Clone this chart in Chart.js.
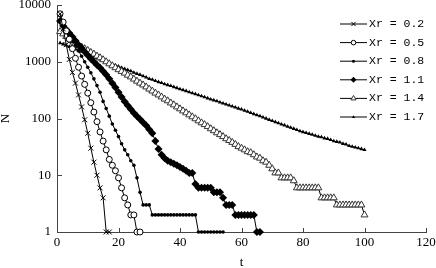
<!DOCTYPE html>
<html>
<head>
<meta charset="utf-8">
<script src="https://cdn.jsdelivr.net/npm/chart.js@4"></script>
<style>
  html, body { margin: 0; padding: 0; background: #fff; }
</style>
</head>
<body>
<canvas id="decayChart" width="436" height="268"></canvas>
<script>
// tick values
const xTicks = [0, 20, 40, 60, 80, 100, 120];
const yTicks = [1, 10, 100, 1000, 10000];

// N at t = 1, 2, 3, ... for each Xr
const xr02 = [7000, 3800, 2000, 1100, 650, 420, 260, 160, 95, 55, 30, 17, 10, 6, 4, 1, 1];
const xr05 = [7000, 5000, 3500, 2500, 1700, 1150, 800, 560, 400, 280, 190, 130, 88, 58, 40, 28, 19, 15, 12, 9, 6, 4, 3, 2, 2, 1, 1];
const xr08 = [5200, 4100, 3400, 2800, 2300, 1900, 1550, 1250, 1000, 800, 640, 500, 380, 290, 200, 150, 110, 80, 62, 48,
  36, 28, 23, 18, 15, 9, 5, 3, 3, 3, 2, 2, 2, 2, 2, 2, 2, 2, 2, 2, 2, 2, 2, 2, 2, 1, 1, 1, 1, 1, 1, 1, 1, 1];
const xr11 = [5200, 4300, 3700, 3200, 2750, 2350, 2000, 1750, 1500, 1300, 1130, 1000, 880, 780, 680, 590, 500, 420, 350, 290,
  240, 200, 170, 145, 125, 110, 97, 85, 75, 64, 55, 40, 29, 23, 20, 18, 17, 16, 15, 14,
  13, 12, 11, 11, 7, 6, 6, 6, 6, 6, 5, 5, 5, 4, 3, 3, 3, 2, 2, 2, 2, 2, 2, 2, 1, 1];
const xr14 = [3400, 3100, 2800, 2550, 2350, 2130, 1950, 1820, 1700, 1580, 1460, 1365, 1260, 1175, 1085, 1000, 920, 850, 785, 725,
  675, 630, 580, 540, 495, 455, 420, 390, 360, 330, 305, 280, 260, 240, 220, 205, 188, 174, 160, 148,
  136, 126, 116, 107, 99, 91, 84, 78, 72, 66, 61, 56, 52, 48, 44, 41, 38, 35, 32, 30,
  28, 26, 25, 23, 21, 20, 18, 17, 15, 13, 11, 11, 9, 9, 9, 9, 8, 6, 6, 6,
  6, 6, 6, 6, 6, 4, 4, 4, 4, 4, 3, 3, 3, 3, 3, 3, 3, 3, 3, 2];
const xr17 = [2140, 2040, 1950, 1840, 1760, 1660, 1585, 1510, 1430, 1365, 1290, 1230, 1175, 1110, 1060, 1000, 955, 910, 870, 830,
  785, 750, 715, 685, 645, 615, 590, 560, 530, 500, 485, 460, 440, 425, 405, 390, 375, 360, 345, 330,
  318, 305, 292, 280, 270, 258, 248, 238, 228, 218, 210, 202, 193, 185, 178, 170, 164, 157, 150, 145,
  138, 132, 126, 120, 115, 110, 105, 100, 95, 91, 87, 83, 79, 76, 72, 69, 66, 63, 60, 58,
  56, 54, 52, 50, 48, 47, 45, 44, 42, 40, 39, 38, 36, 35, 33, 32, 31, 30, 29, 28];

const axisColor = "#444";
const serif = "'Liberation Serif', 'Times New Roman', serif";

function series(label, values, style) {
  return Object.assign({
    label: label,
    data: values.map((v, i) => ({ x: i + 1, y: v })),
    borderColor: "#000",
    borderWidth: 1,
    pointBorderColor: "#000",
    pointBorderWidth: 1,
    pointHoverRadius: 0,
    tension: 0,
    clip: false,
  }, style);
}

const datasets = [
  series("Xr = 0.2", xr02, { pointStyle: "crossRot", pointRadius: 3.5, pointBackgroundColor: "#000", legendRadius: 3 }),
  series("Xr = 0.5", xr05, { pointStyle: "circle", pointRadius: 3, pointBackgroundColor: "#fff", legendRadius: 2.3 }),
  series("Xr = 0.8", xr08, { pointStyle: "circle", pointRadius: 1.8, pointBorderWidth: 0, pointBackgroundColor: "#000", legendRadius: 1.5 }),
  series("Xr = 1.1", xr11, { pointStyle: "rectRot", pointRadius: 4, pointBorderWidth: 0, pointBackgroundColor: "#000", legendRadius: 3 }),
  series("Xr = 1.4", xr14, { pointStyle: "triangle", pointRadius: 4, pointBorderColor: "#333", pointBackgroundColor: "#fff", legendRadius: 3 }),
  series("Xr = 1.7", xr17, { pointStyle: "triangle", pointRadius: 2.4, pointBorderWidth: 0, pointBackgroundColor: "#000", legendRadius: 1.8 }),
];

// tick marks pointing into the plot
const inwardTicks = {
  id: "inwardTicks",
  afterDraw(chart) {
    const ctx = chart.ctx, sx = chart.scales.x, sy = chart.scales.y;
    ctx.save();
    ctx.strokeStyle = axisColor;
    ctx.lineWidth = 1;
    ctx.beginPath();
    xTicks.forEach(v => {
      const px = Math.round(sx.getPixelForValue(v)) + 0.5;
      ctx.moveTo(px, sx.top);
      ctx.lineTo(px, sx.top - 4);
    });
    yTicks.forEach(v => {
      const py = Math.round(sy.getPixelForValue(v)) + 0.5;
      ctx.moveTo(sy.right, py);
      ctx.lineTo(sy.right + 5, py);
    });
    ctx.stroke();
    ctx.restore();
  }
};

// legend with a line sample through each marker
const lineLegend = {
  id: "lineLegend",
  afterDraw(chart) {
    const ctx = chart.ctx;
    ctx.save();
    ctx.font = "11.5px 'Liberation Mono', monospace";
    ctx.textBaseline = "middle";
    ctx.textAlign = "left";
    chart.data.datasets.forEach((ds, i) => {
      const y = 24 + i * 18.6;
      ctx.strokeStyle = "#000";
      ctx.lineWidth = 1;
      ctx.beginPath();
      ctx.moveTo(340, y);
      ctx.lineTo(367, y);
      ctx.stroke();
      ctx.fillStyle = ds.pointBackgroundColor;
      ctx.strokeStyle = ds.pointBorderColor;
      ctx.lineWidth = ds.pointBorderWidth;
      Chart.helpers.drawPoint(ctx, {
        pointStyle: ds.pointStyle,
        radius: ds.legendRadius,
        rotation: 0,
        borderWidth: ds.pointBorderWidth,
      }, 353.5, y);
      ctx.fillStyle = "#000";
      ctx.fillText(ds.label, 369, y);
    });
    ctx.restore();
  }
};

new Chart(document.getElementById("decayChart").getContext("2d"), {
  type: "line",
  data: { datasets: datasets },
  plugins: [inwardTicks, lineLegend],
  options: {
    responsive: false,
    animation: false,
    layout: { padding: { top: 5, right: 10, bottom: 0, left: 0 } },
    plugins: {
      legend: { display: false },
      tooltip: { enabled: false },
    },
    scales: {
      x: {
        type: "linear",
        min: 0,
        max: 120,
        afterBuildTicks: axis => { axis.ticks = xTicks.map(v => ({ value: v })); },
        afterFit: s => { s.height = 36; s.paddingLeft = 0; s.paddingRight = 0; },
        ticks: { color: "#000", padding: 3, maxRotation: 0, font: { family: serif, size: 13 } },
        grid: { display: false, drawTicks: false },
        border: { display: true, color: axisColor, width: 1 },
        title: {
          display: true, text: "t", color: "#000",
          font: { family: serif, size: 13, lineHeight: 0.8 },
          padding: { top: 0, bottom: 0 },
        },
      },
      y: {
        type: "logarithmic",
        min: 1,
        max: 10000,
        afterBuildTicks: axis => { axis.ticks = yTicks.map(v => ({ value: v })); },
        afterFit: s => { s.width = 57; s.paddingTop = 0; s.paddingBottom = 0; },
        ticks: { color: "#000", padding: 6, callback: v => String(v), font: { family: serif, size: 13 } },
        grid: { display: false, drawTicks: false },
        border: { display: true, color: axisColor, width: 1 },
        title: {
          display: true, text: "N", color: "#000",
          font: { family: serif, size: 13, lineHeight: 0.8 },
          padding: { top: 0, bottom: 0 },
        },
      },
    },
  },
});
</script>
</body>
</html>
